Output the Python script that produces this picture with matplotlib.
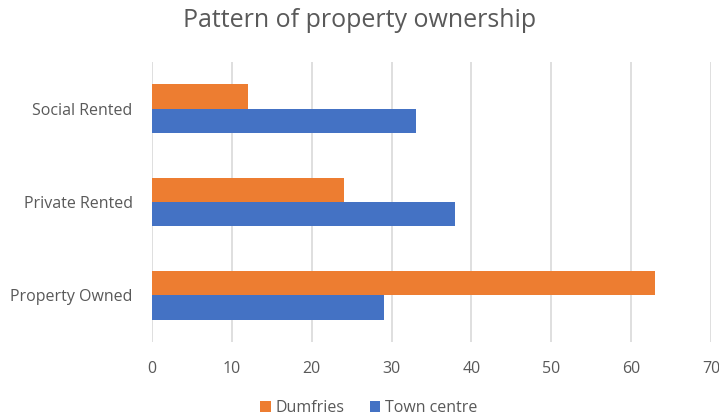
import matplotlib.pyplot as plt
import numpy as np

plt.rcParams['font.family'] = ['Open Sans', 'DejaVu Sans']

# Data
categories = ['Property Owned', 'Private Rented', 'Social Rented']
dumfries = [63, 24, 12]
town_centre = [29, 38, 33]

ORANGE = '#ED7D31'
BLUE = '#4472C4'
TEXT = '#595959'

fig = plt.figure(figsize=(7.19, 4.16), dpi=100)
ax = fig.add_axes([152 / 719, 1 - 342 / 416, (711 - 152) / 719, 280 / 416])

y = np.arange(len(categories))
h = 0.26
ax.barh(y + h / 2, dumfries, height=h, color=ORANGE, label='Dumfries', zorder=3)
ax.barh(y - h / 2, town_centre, height=h, color=BLUE, label='Town centre', zorder=3)

ax.set_xlim(0, 70)
ax.set_ylim(-0.5, 2.5)
ax.set_xticks(range(0, 71, 10))
ax.set_yticks(y)
ax.set_yticklabels(categories)
ax.grid(axis='x', color='#D9D9D9', linewidth=1.2, zorder=0)
for s in ax.spines.values():
    s.set_visible(False)
ax.tick_params(length=0, colors=TEXT, labelsize=11.5)
ax.tick_params(axis='x', pad=14)
ax.tick_params(axis='y', pad=14)

fig.suptitle('Pattern of property ownership', x=0.5, y=0.98, fontsize=18, color=TEXT)

leg = fig.legend(loc='lower center', bbox_to_anchor=(0.513, -0.035), ncol=2, frameon=False,
                 handlelength=0.65, handleheight=0.65, handletextpad=0.3, columnspacing=1.6,
                 fontsize=11.5)
for t in leg.get_texts():
    t.set_color(TEXT)

fig.savefig('out.png', dpi=100)
